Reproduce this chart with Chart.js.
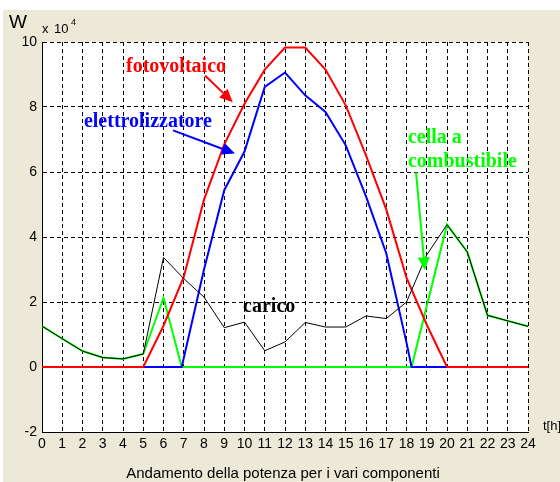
<!DOCTYPE html>
<html>
<head>
<meta charset="utf-8">
<script src="https://cdn.jsdelivr.net/npm/chart.js@4.4.1/dist/chart.umd.min.js"></script>
<style>
  html, body { margin: 0; padding: 0; background: #ffffff; }
  #wrap { width: 560px; height: 482px; }
</style>
</head>
<body>
<div id="wrap"><canvas id="potenza" width="560" height="482"></canvas></div>
<script>
// ore del giorno (valori in W x 10^4)
const ore = [0, 1, 2, 3, 4, 5, 6, 7, 8, 9, 10, 11, 12, 13, 14, 15, 16, 17, 18, 19, 20, 21, 22, 23, 24]
const carico = [1.26, 0.87, 0.49, 0.29, 0.25, 0.40, 3.37, 2.72, 2.15, 1.21, 1.38, 0.50, 0.77, 1.37, 1.23, 1.23, 1.57, 1.49, 2.00, 3.45, 4.38, 3.54, 1.59, 1.42, 1.25]
const fotovoltaico = [0, 0, 0, 0, 0, 0, 1.27, 2.77, 5.15, 6.85, 8.10, 9.15, 9.83, 9.83, 9.15, 8.05, 6.51, 4.85, 2.75, 1.30, 0, 0, 0, 0, 0]

const oreElettro = [0, 6.9, 8, 9, 10, 11, 12, 13, 14, 15, 16, 17, 18, 18.25, 24]
const elettrolizzatore = [0, 0, 3.0, 5.44, 6.63, 8.62, 9.06, 8.36, 7.85, 6.82, 5.25, 3.5, 0.75, 0, 0]

const oreCella = [0, 1, 2, 3, 4, 5, 6, 6.9, 18.25, 20, 21, 22, 23, 24]
const cella = [1.26, 0.87, 0.49, 0.29, 0.25, 0.40, 2.13, 0, 0, 4.38, 3.54, 1.59, 1.42, 1.25]

const xMin = 0, xMax = 24, xStep = 1
const yMin = -2, yMax = 10, yStep = 2

const pts = (xs, ys) => xs.map((x, i) => ({x: x, y: ys[i]}))

// scritte e frecce dentro il grafico (in coordinate dei dati)
const scritte = [
    {testo: 'fotovoltaico', colore: '#ff0000', x: 4.15, y: 9.07},
    {testo: 'elettrolizzatore', colore: '#0000ff', x: 2.07, y: 7.38},
    {testo: 'cella a', colore: '#00ff00', x: 18.07, y: 6.88},
    {testo: 'combustibile', colore: '#00ff00', x: 18.07, y: 6.15},
    {testo: 'carico', colore: '#000000', x: 9.93, y: 1.69}
]
const frecce = [
    {colore: '#ff0000', da: [8.05, 8.97], a: [9.42, 8.15]},
    {colore: '#0000ff', da: [6.47, 7.28], a: [9.53, 6.57]},
    {colore: '#00ff00', da: [18.47, 5.99], a: [18.91, 2.98]}
]

const sfondo = {
    id: 'sfondo',
    beforeDraw(chart) {
        const {ctx, chartArea: a} = chart
        ctx.save()
        ctx.fillStyle = '#ffffff'
        ctx.fillRect(0, 0, chart.width, chart.height)
        ctx.fillStyle = '#ece9d8'
        ctx.fillRect(3, 10, chart.width - 3, chart.height - 10)
        ctx.fillStyle = '#ffffff'
        ctx.fillRect(a.left, a.top, a.right - a.left, a.bottom - a.top)
        ctx.restore()
    }
}

const testi = {
    id: 'testi',
    afterDatasetsDraw(chart) {
        const {ctx, scales: {x, y}} = chart
        ctx.save()
        // frecce
        frecce.forEach(f => {
            const x1 = x.getPixelForValue(f.da[0]), y1 = y.getPixelForValue(f.da[1])
            const x2 = x.getPixelForValue(f.a[0]), y2 = y.getPixelForValue(f.a[1])
            const ang = Math.atan2(y2 - y1, x2 - x1)
            const len = 13, half = 6
            const bx = x2 - len * Math.cos(ang), by = y2 - len * Math.sin(ang)
            ctx.strokeStyle = f.colore
            ctx.fillStyle = f.colore
            ctx.lineWidth = 2
            ctx.beginPath()
            ctx.moveTo(x1, y1)
            ctx.lineTo(bx, by)
            ctx.stroke()
            ctx.beginPath()
            ctx.moveTo(x2, y2)
            ctx.lineTo(bx + half * Math.sin(ang), by - half * Math.cos(ang))
            ctx.lineTo(bx - half * Math.sin(ang), by + half * Math.cos(ang))
            ctx.closePath()
            ctx.fill()
        })
        // etichette
        ctx.font = 'bold 20px "Liberation Serif"'
        ctx.textAlign = 'left'
        ctx.textBaseline = 'alphabetic'
        scritte.forEach(s => {
            ctx.fillStyle = s.colore
            ctx.fillText(s.testo, x.getPixelForValue(s.x), y.getPixelForValue(s.y))
        })
        ctx.restore()
    },
    afterDraw(chart) {
        const {ctx} = chart
        ctx.save()
        ctx.fillStyle = '#000000'
        ctx.textBaseline = 'alphabetic'
        ctx.textAlign = 'left'
        ctx.font = '19px "Liberation Sans"'
        ctx.fillText('W', 9, 28)
        ctx.font = '13px "Liberation Sans"'
        ctx.fillText('x', 42, 33)
        ctx.fillText('10', 54, 33)
        ctx.font = '9px "Liberation Sans"'
        ctx.fillText('4', 71, 25)
        ctx.font = '13px "Liberation Sans"'
        ctx.fillText('t[h]', 543, 430)
        ctx.font = '15px "Liberation Sans"'
        ctx.textAlign = 'center'
        ctx.fillText('Andamento della potenza per i vari componenti', 283, 478)
        ctx.restore()
    }
}

const linea = (dati, colore, spessore, ordine) => ({
    data: dati,
    borderColor: colore,
    backgroundColor: colore,
    borderWidth: spessore,
    pointRadius: 0,
    tension: 0,
    fill: false,
    order: ordine
})

const ctx = document.getElementById('potenza').getContext('2d')
new Chart(ctx, {
    type: 'line',
    data: {
        datasets: [
            linea(pts(ore, carico), '#000000', 1, 0),
            linea(pts(ore, fotovoltaico), '#ff0000', 2, 1),
            linea(pts(oreElettro, elettrolizzatore), '#0000ff', 2, 2),
            linea(pts(oreCella, cella), '#00ff00', 2, 3)
        ]
    },
    options: {
        responsive: false,
        animation: false,
        devicePixelRatio: 1,
        layout: {padding: {left: 0, top: 42, right: 32, bottom: 0}},
        plugins: {
            legend: {display: false},
            tooltip: {enabled: false}
        },
        scales: {
            x: {
                type: 'linear',
                min: xMin,
                max: xMax,
                afterFit: s => { s.height = 50 },
                ticks: {
                    stepSize: xStep,
                    autoSkip: false,
                    maxRotation: 0,
                    padding: 4,
                    color: '#000',
                    font: {family: 'Liberation Sans', size: 14}
                },
                grid: {color: '#000', lineWidth: 1, drawTicks: false},
                border: {display: true, color: '#000', width: 1, dash: [4, 3]}
            },
            y: {
                min: yMin,
                max: yMax,
                afterFit: s => { s.width = 42 },
                ticks: {
                    stepSize: yStep,
                    padding: 5,
                    color: '#000',
                    font: {family: 'Liberation Sans', size: 14}
                },
                grid: {color: '#000', lineWidth: 1, drawTicks: false},
                border: {display: true, color: '#000', width: 1, dash: [4, 3]}
            }
        }
    },
    plugins: [sfondo, testi]
})
</script>
</body>
</html>
